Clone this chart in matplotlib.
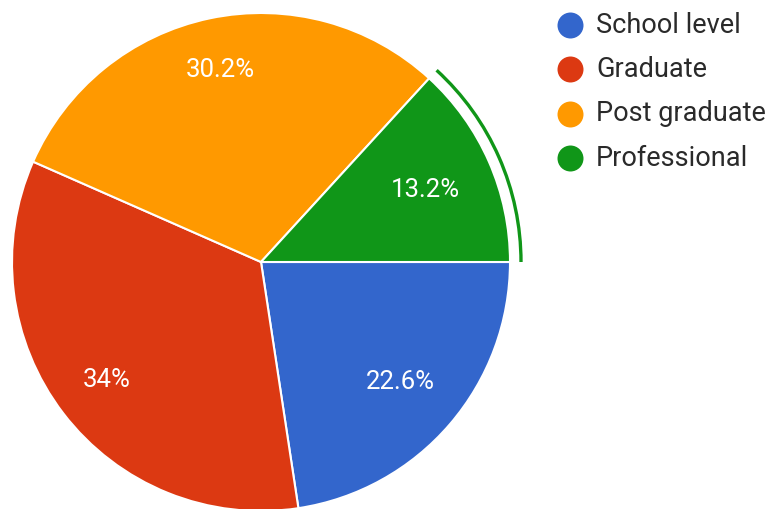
import matplotlib
matplotlib.use("Agg")
import matplotlib.pyplot as plt
from matplotlib.patches import Arc
import numpy as np

plt.rcParams['font.family'] = ['Roboto', 'DejaVu Sans']

categories = ["School level", "Graduate", "Post graduate", "Professional"]
shares = [22.6, 34, 30.2, 13.2]
colors = ["#3366cc", "#dc3912", "#ff9900", "#109618"]
label_radius = [0.74, 0.78, 0.79, 0.72]
highlight = "Professional"

W, H = 772, 509
fig = plt.figure(figsize=(W / 100, H / 100), dpi=100)
ax = fig.add_axes([0, 0, 1, 1])

cx, cy, R = 261, H - 262, 249
wedges, _ = ax.pie(shares, colors=colors, startangle=0, counterclock=False,
                   center=(cx, cy), radius=R, frame=True,
                   wedgeprops=dict(edgecolor="white", linewidth=1.5))
ax.set_xlim(0, W)
ax.set_ylim(0, H)
ax.set_aspect("equal")
ax.axis("off")

for w, v, rf in zip(wedges, shares, label_radius):
    mid = np.deg2rad((w.theta1 + w.theta2) / 2)
    x = cx + rf * R * np.cos(mid)
    y = cy + rf * R * np.sin(mid)
    ax.text(x, y, f"{v:g}%", color="white", fontsize=18.5,
            ha="center", va="center")

# outer ring marking the selected slice
k = categories.index(highlight)
hw = wedges[k]
ax.add_patch(Arc((cx, cy), 2 * 260, 2 * 260, theta1=hw.theta1, theta2=hw.theta2,
                 color=colors[k], linewidth=2.4))

# legend
for i, (name, c) in enumerate(zip(categories, colors)):
    y = H - (25 + i * 44.4)
    ax.scatter([570], [y], s=350, color=c, zorder=3, linewidths=0)
    ax.text(596, y, name, fontsize=19.5, color="#2a2a2a", ha="left", va="center")

fig.savefig("out.png", dpi=100)
